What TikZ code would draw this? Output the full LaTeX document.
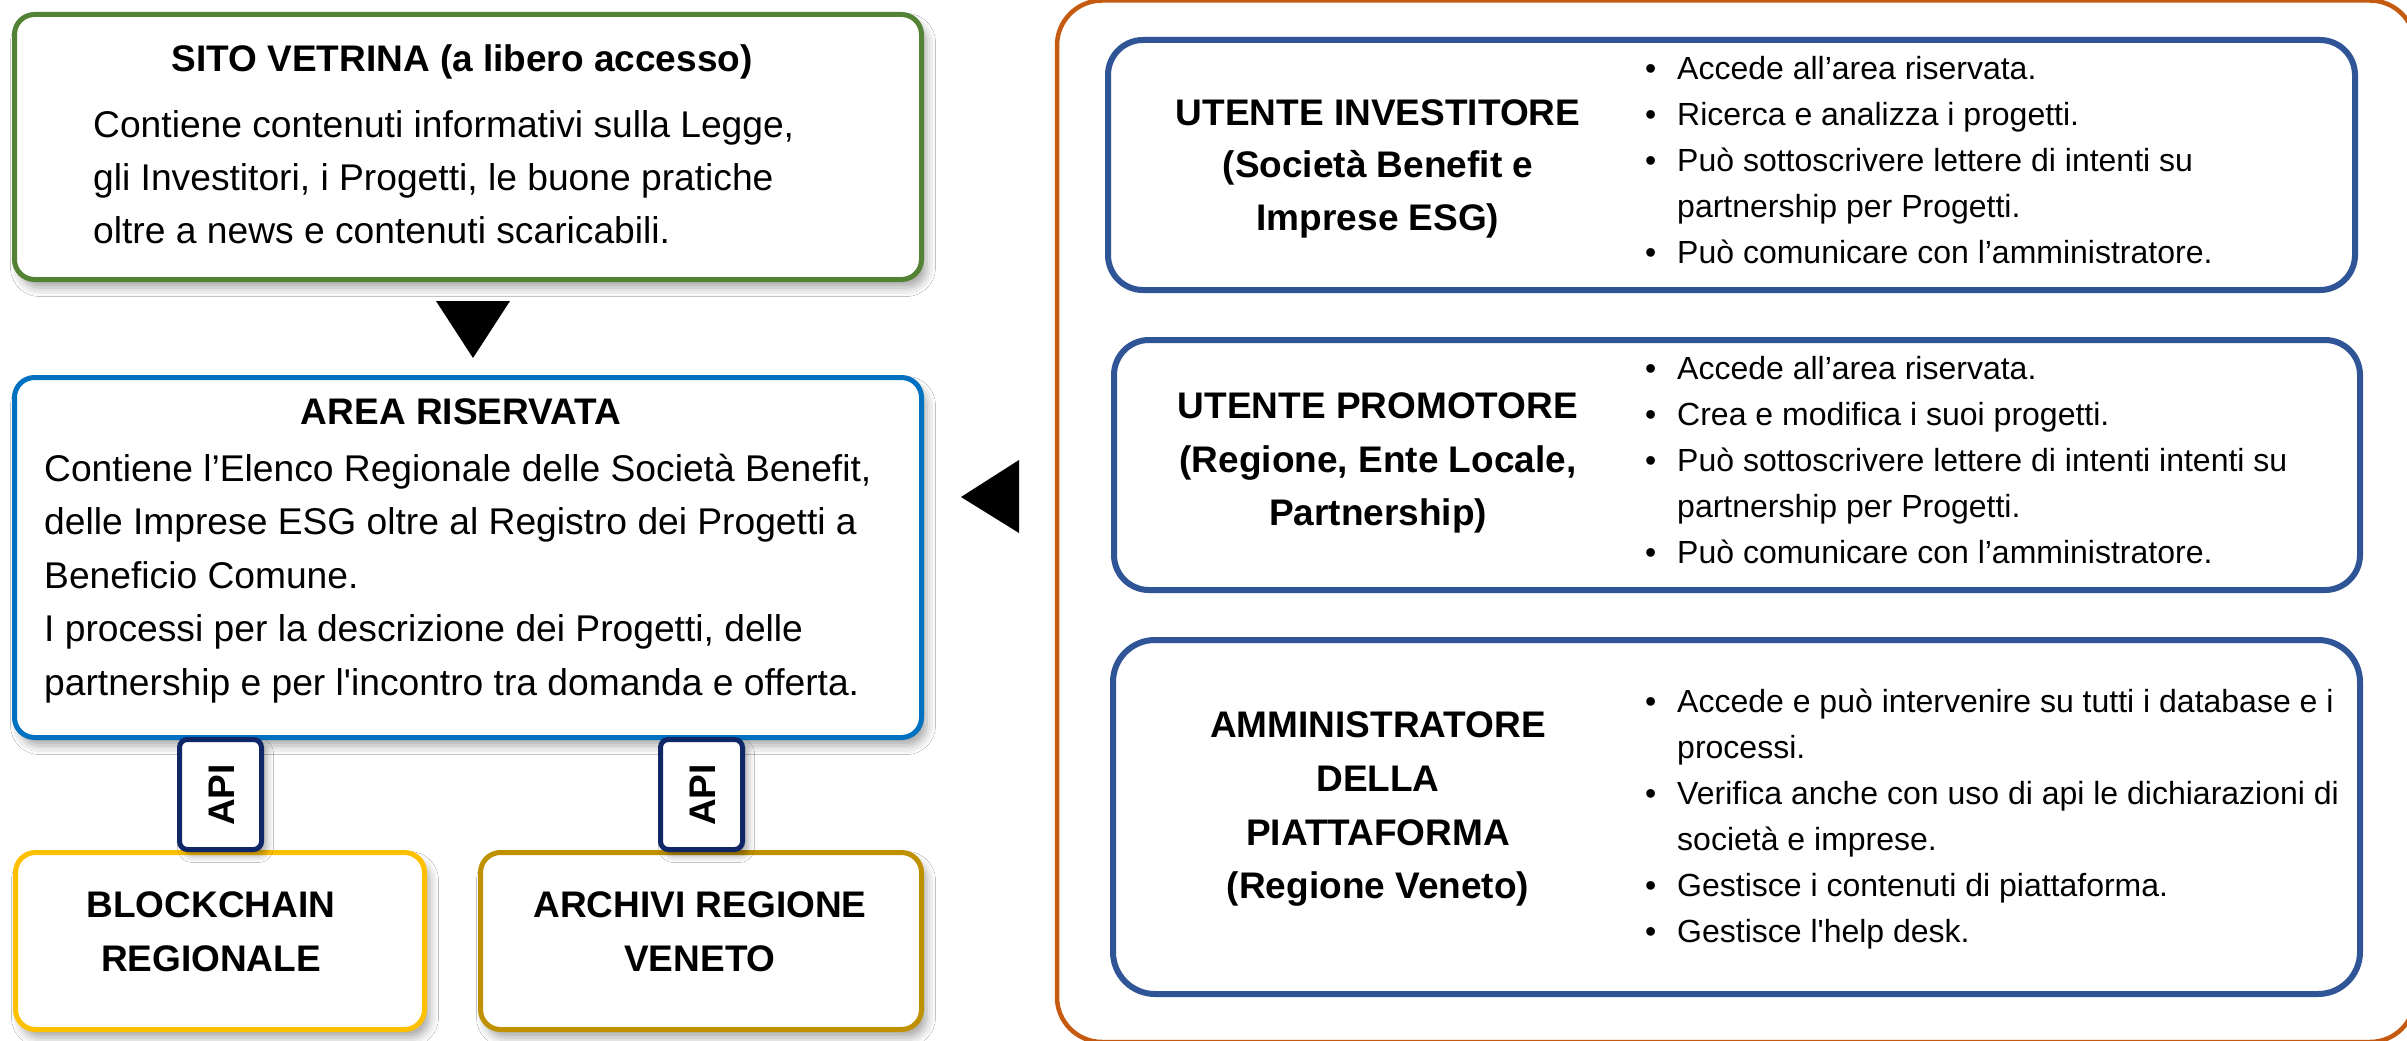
\documentclass[tikz,border=0pt]{standalone}
\usepackage{fontspec}
\setmainfont[Ligatures=TeXOff]{Liberation Sans}
\usetikzlibrary{shadows.blur}
\definecolor{cgreen}{HTML}{548235}
\definecolor{cblue}{HTML}{0070C0}
\definecolor{cyellow}{HTML}{FFC000}
\definecolor{cgold}{HTML}{BF9000}
\definecolor{cnavy}{HTML}{0F2766}
\definecolor{cinner}{HTML}{2F5597}
\definecolor{corange}{HTML}{C55A11}
\newcommand\ftitle{\fontsize{37}{44}\selectfont\bfseries}
\newcommand\fbody{\fontsize{37.2}{44}\selectfont}
\newcommand\fsmall{\fontsize{32}{40}\selectfont}
\tikzset{
  lbox/.style={draw, fill=white, line width=5pt, rounded corners=20pt,
    blur shadow={shadow xshift=5pt, shadow yshift=-8pt, shadow blur radius=9pt, shadow opacity=35}},
  apibox/.style={draw=cnavy, fill=white, line width=5pt, rounded corners=8pt,
    minimum width=82pt, minimum height=110pt,
    blur shadow={shadow xshift=5pt, shadow yshift=-6pt, shadow blur radius=7pt, shadow opacity=35}},
  rbox/.style={draw=cinner, line width=6pt, rounded corners=35pt},
  tx/.style={inner sep=0pt, anchor=base},
  txl/.style={inner sep=0pt, anchor=base west},
}
\begin{document}
\begin{tikzpicture}[x=1pt, y=-1pt]
\useasboundingbox (0,0) rectangle (2407,1041);
\clip (0,0) rectangle (2407,1041);
\fill[white] (0,0) rectangle (2407,1041);

% ---------- left column ----------
\node[lbox, draw=cgreen, minimum width=907pt, minimum height=265pt] (sito) at (468,147) {};
\node[tx, font=\ftitle] (sitot) at (462,72) {SITO VETRINA (a libero accesso)};
\node[txl, font=\fbody] (sito1) at (93,137) {Contiene contenuti informativi sulla Legge,};
\node[txl, font=\fbody] (sito2) at (93,190) {gli Investitori, i Progetti, le buone pratiche};
\node[txl, font=\fbody] (sito3) at (93,243) {oltre a news e contenuti scaricabili.};

\fill (436,301) -- (510,301) -- (473,358) -- cycle;

\node[lbox, draw=cblue, minimum width=907pt, minimum height=360pt] (area) at (468,557.5) {};
\node[tx, font=\ftitle] (areat) at (461,424) {AREA RISERVATA};
\node[txl, font=\fbody] (area1) at (44,481) {Contiene l’Elenco Regionale delle Società Benefit,};
\node[txl, font=\fbody] (area2) at (44,534.5) {delle Imprese ESG oltre al Registro dei Progetti a};
\node[txl, font=\fbody] (area3) at (44,588) {Beneficio Comune.};
\node[txl, font=\fbody] (area4) at (44,641.5) {I processi per la descrizione dei Progetti, delle};
\node[txl, font=\fbody] (area5) at (44,695) {partnership e per l'incontro tra domanda e offerta.};

\node[lbox, draw=cyellow, minimum width=409pt, minimum height=177pt] (block) at (220,941) {};
\node[tx, font=\ftitle] (block1) at (211,917) {BLOCKCHAIN};
\node[tx, font=\ftitle] (block2) at (211,971) {REGIONALE};

\node[lbox, draw=cgold, minimum width=441pt, minimum height=177pt] (arch) at (701,941) {};
\node[tx, font=\ftitle] (arch1) at (700,917) {ARCHIVI REGIONE};
\node[tx, font=\ftitle] (arch2) at (700,971) {VENETO};

\node[apibox] (api1) at (220.5,794.5) {};
\node[font=\ftitle, rotate=90, inner sep=0pt] (api1t) at (222,795) {API};
\node[apibox] (api2) at (701.5,794.5) {};
\node[font=\ftitle, rotate=90, inner sep=0pt] (api2t) at (703,795) {API};

\fill (1019,460) -- (1019,533) -- (961,497) -- cycle;

% ---------- right panel ----------
\draw[corange, line width=4.5pt, rounded corners=45pt] (1057,0.5) rectangle (2415,1042);

\node[rbox, minimum width=1247pt, minimum height=250pt] (inv) at (1731.5,165) {};
\node[tx, font=\ftitle] (inv1) at (1378,125) {UTENTE INVESTITORE};
\node[tx, font=\ftitle] (inv2) at (1378,177) {(Società Benefit e};
\node[tx, font=\ftitle] (inv3) at (1378,230) {Imprese ESG)};
\node[txl, font=\fsmall] (ib1) at (1645,79.5) {•};
\node[txl, font=\fsmall] (il1) at (1677,79.5) {Accede all’area riservata.};
\node[txl, font=\fsmall] (ib2) at (1645,125.5) {•};
\node[txl, font=\fsmall] (il2) at (1677,125.5) {Ricerca e analizza i progetti.};
\node[txl, font=\fsmall] (ib3) at (1645,171.5) {•};
\node[txl, font=\fsmall] (il3) at (1677,171.5) {Può sottoscrivere lettere di intenti su};
\node[txl, font=\fsmall] (il4) at (1677,217.5) {partnership per Progetti.};
\node[txl, font=\fsmall] (ib5) at (1645,263.5) {•};
\node[txl, font=\fsmall] (il5) at (1677,263.5) {Può comunicare con l’amministratore.};

\node[rbox, minimum width=1246pt, minimum height=250pt] (prom) at (1737,465) {};
\node[tx, font=\ftitle] (prom1) at (1378,418) {UTENTE PROMOTORE};
\node[tx, font=\ftitle] (prom2) at (1378,472) {(Regione, Ente Locale,};
\node[tx, font=\ftitle] (prom3) at (1378,525) {Partnership)};
\node[txl, font=\fsmall] (pb1) at (1645,379) {•};
\node[txl, font=\fsmall] (pl1) at (1677,379) {Accede all’area riservata.};
\node[txl, font=\fsmall] (pb2) at (1645,425) {•};
\node[txl, font=\fsmall] (pl2) at (1677,425) {Crea e modifica i suoi progetti.};
\node[txl, font=\fsmall] (pb3) at (1645,471) {•};
\node[txl, font=\fsmall] (pl3) at (1677,471) {Può sottoscrivere lettere di intenti intenti su};
\node[txl, font=\fsmall] (pl4) at (1677,517) {partnership per Progetti.};
\node[txl, font=\fsmall] (pb5) at (1645,563) {•};
\node[txl, font=\fsmall] (pl5) at (1677,563) {Può comunicare con l’amministratore.};

\node[rbox, rounded corners=42pt, minimum width=1247pt, minimum height=354pt] (amm) at (1736.5,817) {};
\node[tx, font=\ftitle] (amm1) at (1378,737) {AMMINISTRATORE};
\node[tx, font=\ftitle] (amm2) at (1378,791) {DELLA};
\node[tx, font=\ftitle] (amm3) at (1378,845) {PIATTAFORMA};
\node[tx, font=\ftitle] (amm4) at (1378,898) {(Regione Veneto)};
\node[txl, font=\fsmall] (ab1) at (1645,712) {•};
\node[txl, font=\fsmall] (al1) at (1677,712) {Accede e può intervenire su tutti i database e i};
\node[txl, font=\fsmall] (al2) at (1677,758) {processi.};
\node[txl, font=\fsmall] (ab3) at (1645,804) {•};
\node[txl, font=\fsmall] (al3) at (1677,804) {Verifica anche con uso di api le dichiarazioni di};
\node[txl, font=\fsmall] (al4) at (1677,850) {società e imprese.};
\node[txl, font=\fsmall] (ab5) at (1645,896) {•};
\node[txl, font=\fsmall] (al5) at (1677,896) {Gestisce i contenuti di piattaforma.};
\node[txl, font=\fsmall] (ab6) at (1645,942) {•};
\node[txl, font=\fsmall] (al6) at (1677,942) {Gestisce l'help desk.};
\end{tikzpicture}
\end{document}
